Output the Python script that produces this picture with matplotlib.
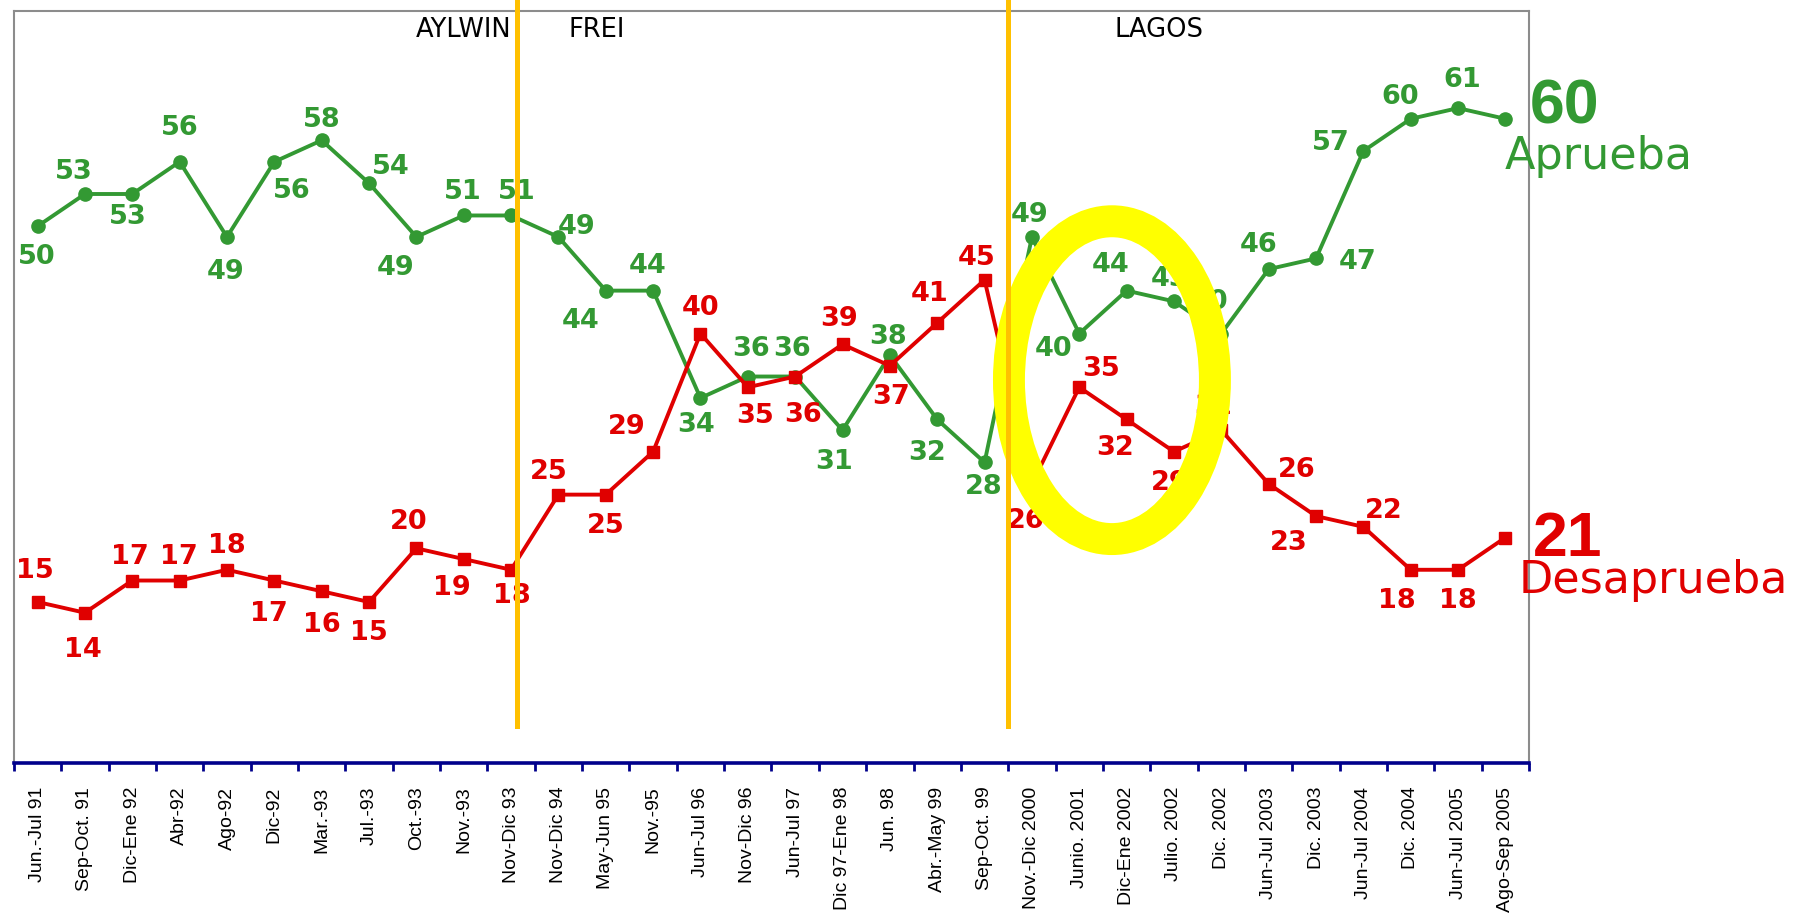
import numpy as np
import matplotlib.pyplot as plt
from matplotlib.patches import Ellipse

# encuestas CEP: aprobacion / desaprobacion presidencial
periodos = ["Jun.-Jul 91", "Sep-Oct. 91", "Dic-Ene 92", "Abr-92", "Ago-92", "Dic-92",
            "Mar.-93", "Jul.-93", "Oct.-93", "Nov.-93", "Nov-Dic 93", "Nov-Dic 94",
            "May-Jun 95", "Nov.-95", "Jun-Jul 96", "Nov-Dic 96", "Jun-Jul 97",
            "Dic 97-Ene 98", "Jun. 98", "Abr.-May 99", "Sep-Oct. 99", "Nov.-Dic 2000",
            "Junio. 2001", "Dic-Ene 2002", "Julio. 2002", "Dic. 2002", "Jun-Jul 2003",
            "Dic. 2003", "Jun-Jul 2004", "Dic. 2004", "Jun-Jul 2005", "Ago-Sep 2005"]
aprueba = [50, 53, 53, 56, 49, 56, 58, 54, 49, 51, 51, 49, 44, 44, 34, 36, 36, 31,
           38, 32, 28, 49, 40, 44, 43, 40, 46, 47, 57, 60, 61, 60]
desaprueba = [15, 14, 17, 17, 18, 17, 16, 15, 20, 19, 18, 25, 25, 29, 40, 35, 36, 39,
              37, 41, 45, 26, 35, 32, 29, 31, 26, 23, 22, 18, 18, 21]
presidentes = ["AYLWIN", "FREI", "LAGOS"]

# where each value label sits relative to its point (image px, +y = down)
off_verde = [(-1, 27), (-10, -19), (-4, 20), (0, -29), (-1, 30), (15, 25), (0, -18),
             (19, -14), (-18, 27), (-1, -20), (5, -20), (16, -9), (-22, 26), (-5, -21),
             (-4, 23), (3, -24), (-3, -24), (-7, 28), (-2, -16), (-9, 29), (-1, 21),
             (-2, -19), (-22, 13), (-14, -22), (-4, -19), (-10, -27), (-9, -21),
             (36, 3), (-28, -7), (-9, -19), (4, -24), None]
off_rojo = [(-2, -27), (-2, 32), (-2, -20), (-1, -20), (0, -21), (-5, 29), (0, 29),
            (0, 27), (-7, -23), (-10, 25), (1, 23), (-8, -20), (0, 27), (-23, -21),
            (0, -22), (6, 25), (7, 33), (-3, -22), (1, 27), (-7, -25), (-7, -19),
            (-5, 32), (19, -16), (-10, 25), (-4, 27), (-7, -20), (24, -12), (-24, 23),
            (18, -14), (-12, 27), (0, 27), None]

verde = '#339933'
rojo = '#E00000'
naranja = '#FFC000'
s = 1807 / 1568

plt.rcParams['font.family'] = ['DejaVu Sans']

fig = plt.figure(figsize=(18.07, 9.18), dpi=100)
ax = fig.add_axes([0.0077, 0.1688, 0.8385, 0.8187])

x = np.arange(len(periodos))
ax.plot(x, aprueba, color=verde, lw=2.8, marker='o', ms=9.5, zorder=3)
ax.plot(x, desaprueba, color=rojo, lw=2.8, marker='s', ms=9, zorder=3)

for xi, v, o in zip(x, aprueba, off_verde):
    if o is None:
        continue
    ax.annotate(str(v), (xi, v), xytext=(o[0] * s, -o[1] * s), textcoords='offset pixels',
                ha='center', va='center', color=verde, fontsize=19.5, fontweight='bold', zorder=4)
for xi, v, o in zip(x, desaprueba, off_rojo):
    if o is None:
        continue
    ax.annotate(str(v), (xi, v), xytext=(o[0] * s, -o[1] * s), textcoords='offset pixels',
                ha='center', va='center', color=rojo, fontsize=19.5, fontweight='bold', zorder=4)

# cambio de gobierno
for xv in [10.12, 20.5]:
    ax.plot([xv, xv], [3.45, 71.3], color=naranja, lw=3.6, clip_on=False, zorder=6)

ax.text(10.0, 68.3, presidentes[0], ha='right', va='center', fontsize=18.5)
ax.text(11.22, 68.3, presidentes[1], ha='left', va='center', fontsize=18.5)
ax.text(23.69, 68.3, presidentes[2], ha='center', va='center', fontsize=18.5)

ax.add_patch(Ellipse((22.69, 35.66), 4.35, 29.6, fill=False, ec='#FFFF00', lw=23, zorder=5))

ax.set_xlim(-0.5, len(periodos) - 0.5)
ax.set_ylim(0, 70)
ax.set_yticks([])
ax.set_xticks(x)
ax.set_xticklabels(periodos, rotation=90, fontsize=14, family='Liberation Sans')
ax.set_xticks(np.arange(len(periodos) + 1) - 0.5, minor=True)
ax.tick_params(axis='x', which='major', length=0, pad=17)
ax.tick_params(axis='x', which='minor', length=6, width=2, color='#00008B', direction='out')
for sp in ['left', 'top', 'right']:
    ax.spines[sp].set_color('#8c8c8c')
    ax.spines[sp].set_linewidth(1.5)
ax.spines['bottom'].set_color('#00008B')
ax.spines['bottom'].set_linewidth(2.6)

# ultimo dato a la derecha
fig.text(1530 / 1807, 1 - 107 / 918, str(aprueba[-1]), ha='left', va='center',
         color=verde, fontsize=45, fontweight='bold', family='Liberation Sans')
fig.text(1505 / 1807, 1 - 157 / 918, "Aprueba", ha='left', va='center',
         color=verde, fontsize=32)
fig.text(1533 / 1807, 1 - 539 / 918, str(desaprueba[-1]), ha='left', va='center',
         color=rojo, fontsize=45, fontweight='bold', family='Liberation Sans')
fig.text(1519 / 1807, 1 - 580 / 918, "Desaprueba", ha='left', va='center',
         color=rojo, fontsize=32)

fig.savefig('out.png', dpi=100)
